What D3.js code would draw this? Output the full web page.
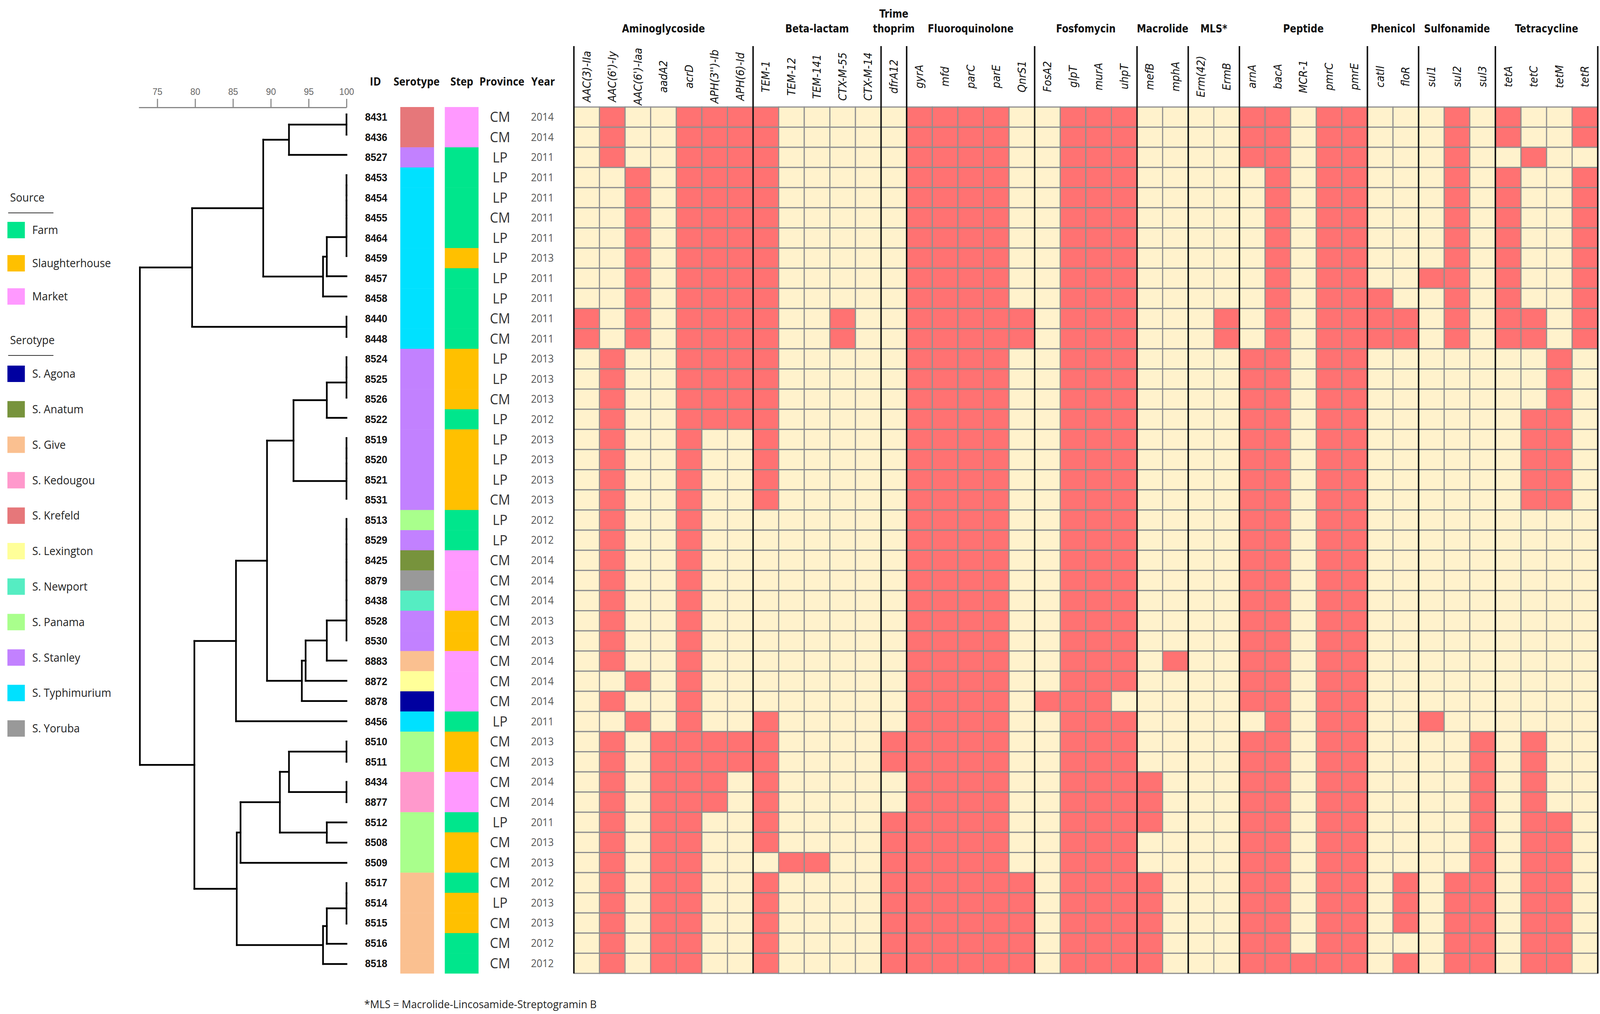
<!DOCTYPE html>
<html>
<head>
<meta charset="utf-8">
<script src="https://cdn.jsdelivr.net/npm/d3@7"></script>
<style>
  html, body { margin: 0; padding: 0; background: #fff; overflow: hidden; }
  svg { display: block; width: 100vw; height: 100vh; }
</style>
</head>
<body>
<svg id="chart" viewBox="0 0 4313 2596" preserveAspectRatio="none"></svg>
<script>
// isolates, top to bottom
var ids = ["8431","8436","8527","8453","8454","8455","8464","8459","8457","8458","8440","8448",
  "8524","8525","8526","8522","8519","8520","8521","8531","8513","8529","8425","8879","8438",
  "8528","8530","8883","8872","8878","8456","8510","8511","8434","8877","8512","8508","8509",
  "8517","8514","8515","8516","8518"];

var serotypes = ["S. Krefeld","S. Krefeld","S. Stanley",
  "S. Typhimurium","S. Typhimurium","S. Typhimurium","S. Typhimurium","S. Typhimurium",
  "S. Typhimurium","S. Typhimurium","S. Typhimurium","S. Typhimurium",
  "S. Stanley","S. Stanley","S. Stanley","S. Stanley","S. Stanley","S. Stanley","S. Stanley","S. Stanley",
  "S. Panama","S. Stanley","S. Anatum","S. Yoruba","S. Newport","S. Stanley","S. Stanley",
  "S. Give","S. Lexington","S. Agona","S. Typhimurium","S. Panama","S. Panama",
  "S. Kedougou","S. Kedougou","S. Panama","S. Panama","S. Panama",
  "S. Give","S. Give","S. Give","S. Give","S. Give"];

var steps = ["Market","Market","Farm","Farm","Farm","Farm","Farm","Slaughterhouse","Farm","Farm","Farm","Farm",
  "Slaughterhouse","Slaughterhouse","Slaughterhouse","Farm","Slaughterhouse","Slaughterhouse","Slaughterhouse","Slaughterhouse",
  "Farm","Farm","Market","Market","Market","Slaughterhouse","Slaughterhouse","Market","Market","Market","Farm",
  "Slaughterhouse","Slaughterhouse","Market","Market","Farm","Slaughterhouse","Slaughterhouse",
  "Farm","Slaughterhouse","Slaughterhouse","Farm","Farm"];

var provinces = ["CM","CM","LP","LP","LP","CM","LP","LP","LP","LP","CM","CM","LP","LP","CM","LP","LP","LP","LP","CM",
  "LP","LP","CM","CM","CM","CM","CM","CM","CM","CM","LP","CM","CM","CM","CM","LP","CM","CM","CM","LP","CM","CM","CM"];

var years = ["2014","2014","2011","2011","2011","2011","2011","2013","2011","2011","2011","2011","2013","2013","2013","2012",
  "2013","2013","2013","2013","2012","2012","2014","2014","2014","2013","2013","2014","2014","2014","2011","2013","2013",
  "2014","2014","2011","2013","2013","2012","2013","2013","2012","2012"];

// antimicrobial classes and genes
var groupNames = ["Aminoglycoside","Beta-lactam","Trime\nthoprim","Fluoroquinolone","Fosfomycin","Macrolide",
  "MLS*","Peptide","Phenicol","Sulfonamide","Tetracycline"];
var groupSizes = [7, 5, 1, 5, 4, 2, 2, 5, 2, 3, 4];
var genes = ["AAC(3)-IIa","AAC(6')-Iy","AAC(6')-Iaa","aadA2","acrD","APH(3'')-Ib","APH(6)-Id",
  "TEM-1","TEM-12","TEM-141","CTX-M-55","CTX-M-14","dfrA12",
  "gyrA","mfd","parC","parE","QnrS1","FosA2","glpT","murA","uhpT","mefB","mphA","Erm(42)","ErmB",
  "arnA","bacA","MCR-1","pmrC","pmrE","catII","floR","sul1","sul2","sul3","tetA","tetC","tetM","tetR"];

// gene presence per isolate (1 = present), grouped by class
var presence = [
  "0100111 10000 0 11110 0111 00 00 11011 00 010 1001",
  "0100111 10000 0 11110 0111 00 00 11011 00 010 1001",
  "0100111 10000 0 11110 0111 00 00 11011 00 010 0100",
  "0010111 10000 0 11110 0111 00 00 01011 00 010 1001",
  "0010111 10000 0 11110 0111 00 00 01011 00 010 1001",
  "0010111 10000 0 11110 0111 00 00 01011 00 010 1001",
  "0010111 10000 0 11110 0111 00 00 01011 00 010 1001",
  "0010111 10000 0 11110 0111 00 00 01011 00 010 1001",
  "0010111 10000 0 11110 0111 00 00 01011 00 110 1001",
  "0010111 10000 0 11110 0111 00 00 01011 10 010 1001",
  "1010111 10010 0 11111 0111 00 01 01011 11 010 1101",
  "1010111 10010 0 11111 0111 00 01 01011 11 010 1101",
  "0100111 10000 0 11110 0111 00 00 11011 00 000 0010",
  "0100111 10000 0 11110 0111 00 00 11011 00 000 0010",
  "0100111 10000 0 11110 0111 00 00 11011 00 000 0010",
  "0100111 10000 0 11110 0111 00 00 11011 00 000 0110",
  "0100100 10000 0 11110 0111 00 00 11011 00 000 0110",
  "0100100 10000 0 11110 0111 00 00 11011 00 000 0110",
  "0100100 10000 0 11110 0111 00 00 11011 00 000 0110",
  "0100100 10000 0 11110 0111 00 00 11011 00 000 0110",
  "0100100 00000 0 11110 0111 00 00 11011 00 000 0000",
  "0100100 00000 0 11110 0111 00 00 11011 00 000 0000",
  "0100100 00000 0 11110 0111 00 00 11011 00 000 0000",
  "0100100 00000 0 11110 0111 00 00 11011 00 000 0000",
  "0100100 00000 0 11110 0111 00 00 11011 00 000 0000",
  "0100100 00000 0 11110 0111 00 00 11011 00 000 0000",
  "0100100 00000 0 11110 0111 00 00 11011 00 000 0000",
  "0100100 00000 0 11110 0111 01 00 11011 00 000 0000",
  "0010100 00000 0 11110 0111 00 00 11011 00 000 0000",
  "0100100 00000 0 11110 1110 00 00 11011 00 000 0000",
  "0010100 10000 0 11110 0111 00 00 01011 00 100 0000",
  "0101111 10000 1 11110 0111 00 00 11011 00 001 0100",
  "0101111 10000 1 11110 0111 00 00 11011 00 001 0100",
  "0101110 10000 0 11110 0111 10 00 11011 00 001 0100",
  "0101110 10000 0 11110 0111 10 00 11011 00 001 0100",
  "0101100 10000 1 11110 0111 10 00 11011 00 001 0110",
  "0101100 10000 1 11110 0111 00 00 11011 00 001 0110",
  "0101100 01100 1 11110 0111 00 00 11011 00 001 0110",
  "0101100 10000 1 11111 0111 10 00 11011 01 011 0110",
  "0101100 10000 1 11111 0111 10 00 11011 01 011 0110",
  "0101100 10000 1 11111 0111 10 00 11011 01 011 0110",
  "0101100 10000 1 11111 0111 10 00 11011 00 011 0110",
  "0101100 10000 1 11111 0111 10 00 11111 01 011 0110"
];

var simTicks = [75, 80, 85, 90, 95, 100];

var sourceNames = ["Farm", "Slaughterhouse", "Market"];
var sourceColors = ["#00e68c", "#ffc000", "#ff99ff"];
var serotypeNames = ["S. Agona","S. Anatum","S. Give","S. Kedougou","S. Krefeld","S. Lexington",
  "S. Newport","S. Panama","S. Stanley","S. Typhimurium","S. Yoruba"];
var serotypeColors = ["#0000a0","#77933c","#fac090","#ff99cc","#e6777a","#ffff99",
  "#55edc2","#a9ff8c","#c281ff","#00e1ff","#999999"];

// similarity dendrogram (node height = % similarity)
function n(h) {
  var kids = Array.prototype.slice.call(arguments, 1).map(function(k) {
    return typeof k === "string" ? { name: k } : k;
  });
  return { h: h, children: kids };
}
function ladder() {
  var a = Array.prototype.slice.call(arguments);
  var node = n(100, a[0], a[1]);
  for (var i = 2; i < a.length; i++) node = n(100, node, a[i]);
  return node;
}
var tree = n(72.7,
  n(79.6,
    n(89.0,
      n(92.4, n(100, "8431", "8436"), "8527"),
      n(96.9, n(97.4, ladder("8453","8454","8455","8464","8459"), "8457"), "8458")),
    n(100, "8440", "8448")),
  n(79.9,
    n(85.4,
      n(89.5,
        n(93.0, n(97.4, ladder("8524","8525","8526"), "8522"), ladder("8519","8520","8521","8531")),
        n(94.1, n(94.6, n(97.4, ladder("8513","8529","8425","8879","8438","8528","8530"), "8883"), "8872"), "8878")),
      "8456"),
    n(85.5,
      n(86.0,
        n(91.2, n(92.4, n(100, "8510", "8511"), n(100, "8434", "8877")), n(97.4, "8512", "8508")),
        "8509"),
      n(96.9, n(97.4, ladder("8517","8514","8515"), "8516"), "8518"))));

var svg = d3.select("#chart");

var xGene = d3.scaleBand().domain(genes).range([1547, 4307]);
var yRow = d3.scaleBand().domain(ids).range([274, 2492]);
var xSim = d3.scaleLinear().domain([72.55, 100]).range([374, 934]);
var yLeaf = d3.scalePoint().domain(ids).range([293, 2468]);
var serotypeColor = d3.scaleOrdinal().domain(serotypeNames).range(serotypeColors);
var sourceColor = d3.scaleOrdinal().domain(sourceNames).range(sourceColors);

var narrow = "'Liberation Sans Narrow', 'DejaVu Sans Condensed', 'Arial Narrow', sans-serif";
var openSans = "'Open Sans', 'Noto Sans', sans-serif";

// heat map cells
var cells = [];
presence.forEach(function(row, i) {
  row.replace(/ /g, "").split("").forEach(function(v, j) {
    cells.push({ id: ids[i], gene: genes[j], v: +v });
  });
});
svg.append("g").selectAll("rect")
  .data(cells)
  .enter().append("rect")
  .attr("x", function(d) { return xGene(d.gene); })
  .attr("y", function(d) { return yRow(d.id); })
  .attr("width", xGene.bandwidth())
  .attr("height", yRow.bandwidth())
  .attr("fill", function(d) { return d.v ? "#ff7272" : "#fff2cc"; })
  .attr("stroke", "#8f8f8f")
  .attr("stroke-width", 3);

// class separators and class labels
var bounds = [0];
groupSizes.forEach(function(s, i) { bounds.push(bounds[i] + s); });
var xEdge = function(k) { return k < genes.length ? xGene(genes[k]) : xGene.range()[1]; };

svg.append("g").selectAll("line")
  .data(bounds)
  .enter().append("line")
  .attr("x1", xEdge).attr("x2", xEdge)
  .attr("y1", 118).attr("y2", 2492)
  .attr("stroke", "#111")
  .attr("stroke-width", 4);

var groupLabels = svg.append("g")
  .attr("font-family", narrow)
  .attr("font-weight", "bold")
  .attr("font-size", 28)
  .attr("fill", "#111")
  .attr("text-anchor", "middle");
groupNames.forEach(function(name, i) {
  var cx = (xEdge(bounds[i]) + xEdge(bounds[i + 1])) / 2;
  var lines = name.split("\n");
  lines.forEach(function(l, k) {
    groupLabels.append("text")
      .attr("x", cx)
      .attr("y", 73 - (lines.length - 1 - k) * 38)
      .attr("dy", "0.35em")
      .text(l);
  });
});

// gene labels
svg.append("g").selectAll("text")
  .data(genes)
  .enter().append("text")
  .attr("transform", function(d) { return "translate(" + (xGene(d) + xGene.bandwidth() / 2) + ",196) rotate(-90)"; })
  .attr("text-anchor", "middle")
  .attr("dy", "0.35em")
  .attr("font-family", narrow)
  .attr("font-style", "italic")
  .attr("font-size", 29)
  .attr("fill", "#111")
  .text(function(d) { return d; });

// metadata columns
var headers = [["ID", 1012], ["Serotype", 1123], ["Step", 1245], ["Province", 1353], ["Year", 1464]];
svg.append("g").selectAll("text")
  .data(headers)
  .enter().append("text")
  .attr("x", function(d) { return d[1]; })
  .attr("y", 209)
  .attr("dy", "0.35em")
  .attr("text-anchor", "middle")
  .attr("font-family", openSans)
  .attr("font-weight", "bold")
  .attr("font-size", 28)
  .attr("fill", "#111")
  .text(function(d) { return d[0]; });

svg.append("g").selectAll("rect")
  .data(ids)
  .enter().append("rect")
  .attr("x", 1079).attr("width", 91)
  .attr("y", function(d) { return yRow(d); })
  .attr("height", yRow.bandwidth() + 0.5)
  .attr("fill", function(d, i) { return serotypeColor(serotypes[i]); });

svg.append("g").selectAll("rect")
  .data(ids)
  .enter().append("rect")
  .attr("x", 1199).attr("width", 91)
  .attr("y", function(d) { return yRow(d); })
  .attr("height", yRow.bandwidth() + 0.5)
  .attr("fill", function(d, i) { return sourceColor(steps[i]); });

var rowText = function(vals, x, font, size, weight, color) {
  svg.append("g").selectAll("text")
    .data(ids)
    .enter().append("text")
    .attr("x", x)
    .attr("y", function(d) { return yRow(d) + yRow.bandwidth() / 2; })
    .attr("dy", "0.35em")
    .attr("text-anchor", "middle")
    .attr("font-family", font)
    .attr("font-size", size)
    .attr("font-weight", weight)
    .attr("fill", color)
    .text(function(d, i) { return vals[i]; });
};
rowText(ids, 1014, "'Liberation Sans', Arial, sans-serif", 27, "bold", "#111");
rowText(provinces, 1348, openSans, 36, "normal", "#333");
rowText(years, 1462, openSans, 27, "normal", "#555");

// similarity axis
var axis = svg.append("g")
  .attr("transform", "translate(0,275)")
  .call(d3.axisTop(xSim).tickValues(simTicks).tickSize(22).tickSizeOuter(0).tickPadding(10));
axis.select(".domain").attr("stroke", "#888").attr("stroke-width", 3);
axis.selectAll(".tick line").attr("stroke", "#888").attr("stroke-width", 3);
axis.selectAll(".tick text")
  .attr("font-family", "'Liberation Sans', Arial, sans-serif")
  .attr("font-size", 24)
  .attr("fill", "#666");

// dendrogram
var root = d3.hierarchy(tree);
root.eachAfter(function(d) {
  if (!d.children) {
    d.px = xSim(100);
    d.py = yLeaf(d.data.name);
  } else {
    d.px = xSim(d.data.h);
    d.py = (d.children[0].py + d.children[d.children.length - 1].py) / 2;
  }
});
var segs = [];
root.each(function(d) {
  if (!d.children) return;
  var first = d.children[0], last = d.children[d.children.length - 1];
  segs.push([d.px, first.py, d.px, last.py]);
  d.children.forEach(function(c) { segs.push([d.px, c.py, c.px, c.py]); });
});
svg.append("g").selectAll("line")
  .data(segs)
  .enter().append("line")
  .attr("x1", function(d) { return d[0]; })
  .attr("y1", function(d) { return d[1]; })
  .attr("x2", function(d) { return d[2]; })
  .attr("y2", function(d) { return d[3]; })
  .attr("stroke", "#000")
  .attr("stroke-width", 4.5)
  .attr("stroke-linecap", "square");

// legends
var legend = svg.append("g").attr("font-family", openSans).attr("font-size", 29).attr("fill", "#222");
var legendBlock = function(title, names, colorOf, ty, y0, step) {
  legend.append("text").attr("x", 27).attr("y", ty).attr("dy", "0.35em").text(title);
  legend.append("line").attr("x1", 22).attr("x2", 144).attr("y1", ty + 39).attr("y2", ty + 39)
    .attr("stroke", "#333").attr("stroke-width", 2);
  var items = legend.append("g").selectAll("g")
    .data(names)
    .enter().append("g")
    .attr("transform", function(d, i) { return "translate(0," + (y0 + i * step) + ")"; });
  items.append("rect").attr("x", 20).attr("y", -21).attr("width", 47).attr("height", 42)
    .attr("fill", function(d) { return colorOf(d); });
  items.append("text").attr("x", 87).attr("dy", "0.35em").text(function(d) { return d; });
};
legendBlock("Source", sourceNames, sourceColor, 506, 589, 85);
legendBlock("Serotype", serotypeNames, serotypeColor, 871, 957, 90.8);

// footnote
svg.append("text")
  .attr("x", 982).attr("y", 2571).attr("dy", "0.35em")
  .attr("font-family", openSans).attr("font-size", 28).attr("fill", "#222")
  .text("*MLS = Macrolide-Lincosamide-Streptogramin B");
</script>
</body>
</html>
